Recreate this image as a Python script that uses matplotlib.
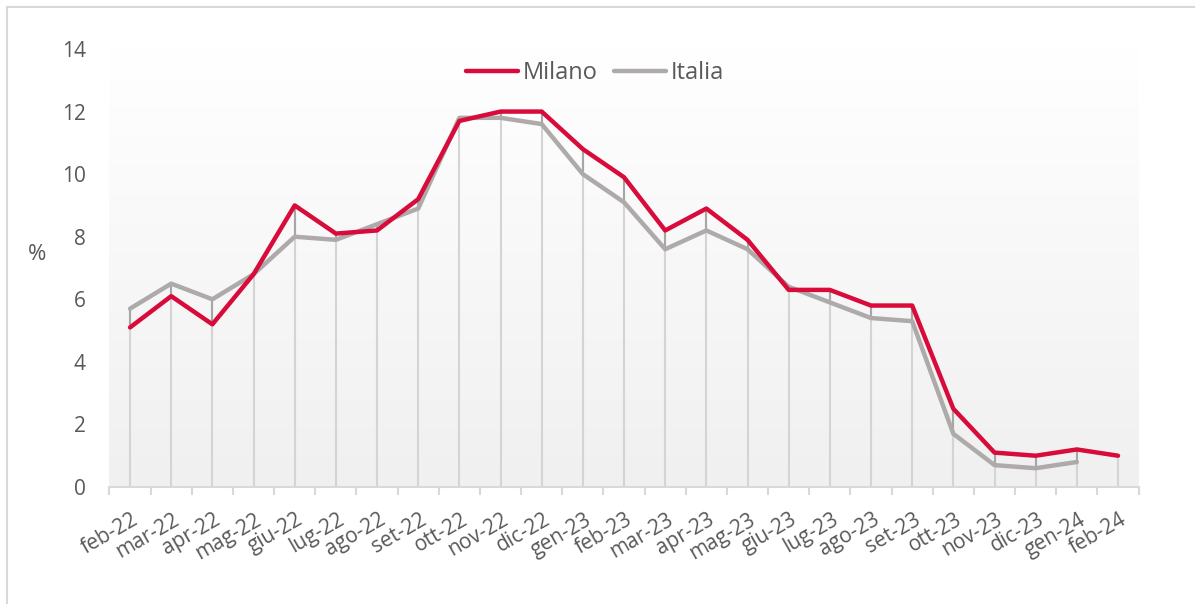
import matplotlib.pyplot as plt
import matplotlib.lines as mlines
import numpy as np

plt.rcParams['font.family'] = ['Open Sans', 'DejaVu Sans']

mesi = ['feb-22', 'mar-22', 'apr-22', 'mag-22', 'giu-22', 'lug-22', 'ago-22',
        'set-22', 'ott-22', 'nov-22', 'dic-22', 'gen-23', 'feb-23', 'mar-23',
        'apr-23', 'mag-23', 'giu-23', 'lug-23', 'ago-23', 'set-23', 'ott-23',
        'nov-23', 'dic-23', 'gen-24', 'feb-24']
milano = [5.1, 6.1, 5.2, 6.8, 9.0, 8.1, 8.2, 9.2, 11.7, 12.0, 12.0, 10.8, 9.9,
          8.2, 8.9, 7.9, 6.3, 6.3, 5.8, 5.8, 2.5, 1.1, 1.0, 1.2, 1.0]
italia = [5.7, 6.5, 6.0, 6.8, 8.0, 7.9, 8.4, 8.9, 11.8, 11.8, 11.6, 10.0, 9.1,
          7.6, 8.2, 7.6, 6.4, 5.9, 5.4, 5.3, 1.7, 0.7, 0.6, 0.8, np.nan]

rosso = '#d80b3a'
grigio = '#aeaaaa'
testo = '#595959'

x = np.arange(len(mesi))
mil = np.array(milano)
ita = np.array(italia)

fig = plt.figure(figsize=(11.95, 6.04), dpi=100)
ax = fig.add_axes([0.0916, 0.1937, 0.8612, 0.7252])

# sfondo sfumato
grad = np.linspace(1.0, 0.0, 256).reshape(-1, 1)
ax.imshow(grad, extent=(-0.5, len(mesi) - 0.5, 0, 14), aspect='auto',
          cmap=plt.matplotlib.colors.LinearSegmentedColormap.from_list(
              'g', ['#f0f0f0', '#ffffff']), zorder=0, origin='upper')

# linee di riferimento
top = np.fmax(mil, ita)
low = np.fmin(mil, ita)
ax.vlines(x, 0, top, color='#d4d4d4', lw=1.5, zorder=1)
ok = ~np.isnan(ita)
ax.vlines(x[ok], low[ok], top[ok], color='#a6a6a6', lw=1.5, zorder=2)

ax.plot(x, ita, color=grigio, lw=3.2, zorder=3, solid_capstyle='round')
ax.plot(x, mil, color=rosso, lw=3.2, zorder=4, solid_capstyle='round')

ax.set_xlim(-0.5, len(mesi) - 0.5)
ax.set_ylim(0, 14)
ax.set_yticks(range(0, 15, 2))
ax.tick_params(axis='y', length=0, pad=17, labelsize=15, labelcolor=testo)

# etichette mesi
ax.set_xticks(x)
ax.set_xticklabels([])
for i, m in enumerate(mesi):
    ax.annotate(m, (i, 0), xycoords=ax.get_xaxis_transform(),
                xytext=(1, -16), textcoords='offset points',
                rotation=30, ha='right', va='top', rotation_mode='anchor',
                fontsize=15, color=testo)
ax.set_xticks(np.arange(-0.5, len(mesi)), minor=True)
ax.tick_params(axis='x', which='major', length=0)
ax.tick_params(axis='x', which='minor', length=6, width=1.5, color='#d9d9d9')

for s in ['top', 'right', 'left']:
    ax.spines[s].set_visible(False)
ax.spines['bottom'].set_color('#d9d9d9')
ax.spines['bottom'].set_linewidth(1.5)

ax.set_ylabel('%', rotation=0, fontsize=16, color=testo, va='center', ha='center')
ax.yaxis.set_label_coords(-0.07, 0.53)

h1 = mlines.Line2D([], [], color=rosso, lw=3.2, solid_capstyle='round')
h2 = mlines.Line2D([], [], color=grigio, lw=3.2, solid_capstyle='round')
ax.legend([h1, h2], ['Milano', 'Italia'], loc='center',
          bbox_to_anchor=(0.472, 0.945), ncol=2, frameon=False, fontsize=17,
          labelcolor=testo, handlelength=2.2, handletextpad=0.2,
          columnspacing=0.7, borderpad=0)

# bordo esterno
fig.add_artist(mlines.Line2D([7 / 1195, 1], [1 - 7 / 604, 1 - 7 / 604],
                             color='#d9d9d9', lw=1.5))
fig.add_artist(mlines.Line2D([7 / 1195, 7 / 1195], [0, 1 - 7 / 604],
                             color='#d9d9d9', lw=1.5))

fig.savefig('out.png', dpi=100)
